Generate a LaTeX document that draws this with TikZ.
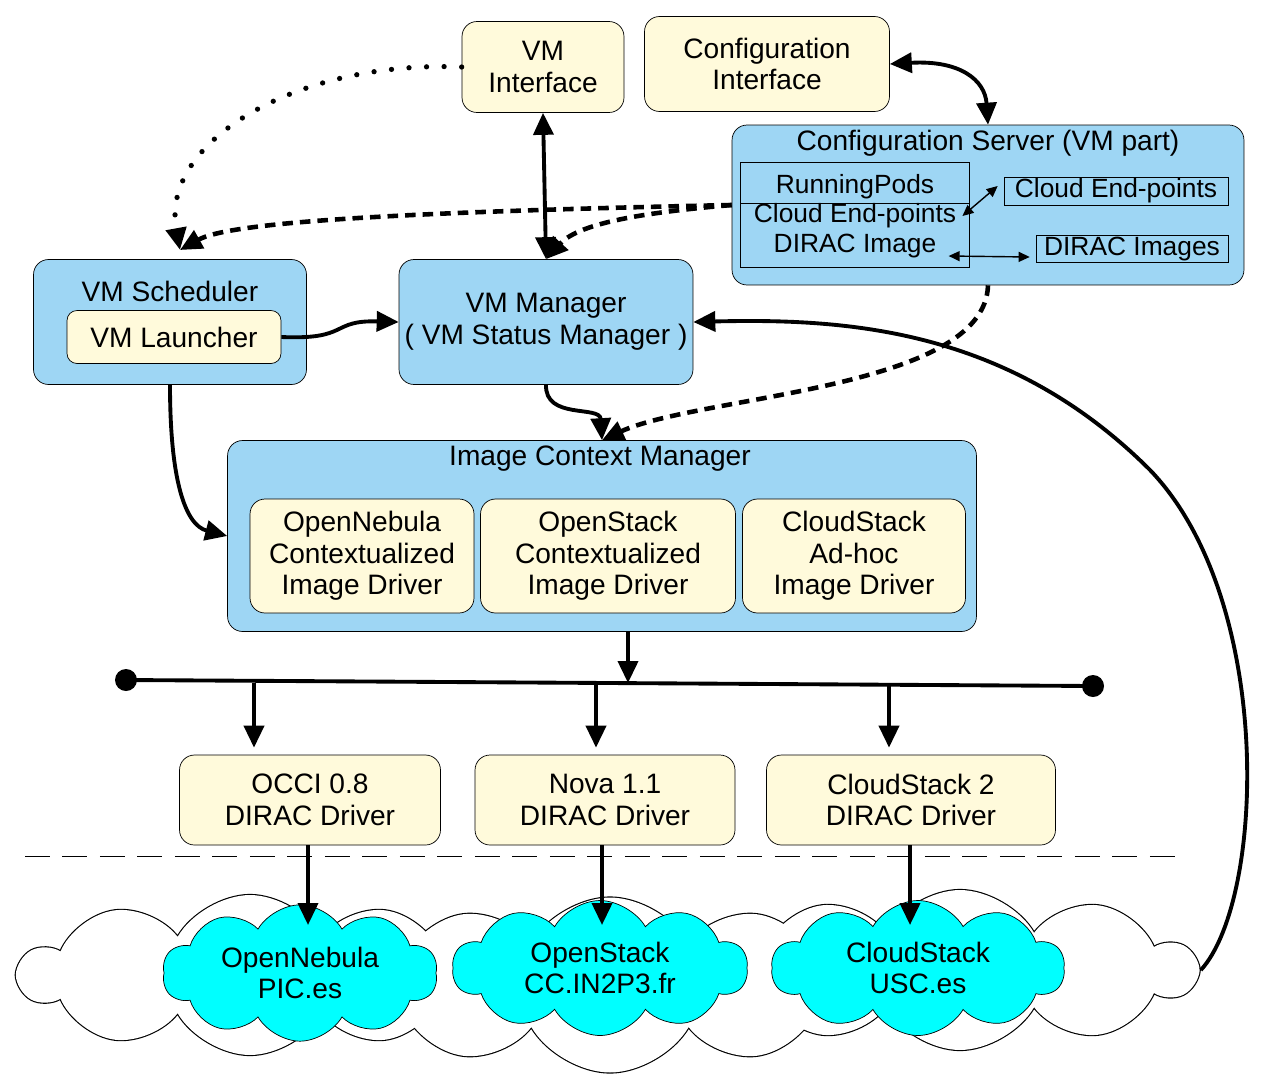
\documentclass[tikz,border=0pt]{standalone}
\usepackage{fontspec}
\setmainfont{Liberation Sans}
\usepackage{tikz}
\usetikzlibrary{arrows.meta,positioning,calc,shapes.symbols}
\definecolor{mgrblue}{HTML}{9ED6F4}
\definecolor{drvyellow}{HTML}{FFFADB}
\definecolor{sitecyan}{HTML}{00FFFF}

\begin{document}
\begin{tikzpicture}[x=0.02cm,y=-0.02cm,
    every node/.style={font=\fontsize{16}{18}\selectfont,align=center,inner sep=0pt},
    small/.style={font=\fontsize{15}{17}\selectfont},
    mgr/.style={draw,thin,rounded corners=0.3cm,fill=mgrblue},
    drv/.style={draw,thin,rounded corners=0.3cm,fill=drvyellow},
    plain/.style={draw,thin},
    site/.style={cloud,draw,thin,fill=sitecyan,cloud puffs=10,cloud puff arc=120},
    gridcloud/.style={cloud,cloud puffs=10,cloud puff arc=120,aspect=2.9},
    arr/.style={-{Triangle[length=4.4mm,width=4mm]},line width=2.2pt},
    darr/.style={{Triangle[length=4.4mm,width=4mm]}-{Triangle[length=4.4mm,width=4mm]},line width=2.2pt},
    tarr/.style={{Triangle[length=2.2mm,width=2mm]}-{Triangle[length=2.2mm,width=2mm]},line width=0.8pt},
    dotarr/.style={arr,line width=3pt,line cap=round,dash pattern=on 0pt off 10pt},
    dasharr/.style={arr,line width=2.6pt,dash pattern=on 6pt off 4pt}
]
\useasboundingbox (0,0) rectangle (1267,1079);

% background cloud: outline of three clouds, then white fill over the inner halves
\node[gridcloud,draw,line width=1.3pt,minimum width=9.2cm,minimum height=3.2cm] (gridA) at (250,975) {};
\node[gridcloud,draw,line width=1.3pt,minimum width=10cm,minimum height=3.5cm] (gridB) at (610,985) {};
\node[gridcloud,draw,line width=1.3pt,minimum width=9.4cm,minimum height=3.2cm] (gridC) at (960,970) {};
\node[gridcloud,fill=white,minimum width=9.2cm,minimum height=3.2cm] (gridAf) at (gridA) {};
\node[gridcloud,fill=white,minimum width=10cm,minimum height=3.5cm] (gridBf) at (gridB) {};
\node[gridcloud,fill=white,minimum width=9.4cm,minimum height=3.2cm] (gridCf) at (gridC) {};

% top interfaces
\node[drv,minimum width=3.24cm,minimum height=1.82cm] (vmif) at (543,67) {VM\\Interface};
\node[drv,minimum width=4.9cm,minimum height=1.9cm] (cfgif) at (767,64) {Configuration\\Interface};

% configuration server
\node[mgr,minimum width=10.24cm,minimum height=3.2cm] (cfgsrv) at (988,205) {};
\node (cfgttl) at (988,143) {Configuration Server (VM part)};
\node[plain,minimum width=4.58cm,minimum height=2.1cm] (pods) at (855,215) {};
\draw[thin] (pods.west |- 0,203) -- (pods.east |- 0,203);
\node[small] (podrun) at (855,187) {RunningPods};
\node[small] (podcep) at (855,216) {Cloud End-points};
\node[small] (podimg) at (855,246) {DIRAC Image};
\node[plain,small,minimum width=4.48cm,minimum height=0.56cm] (cep) at (1116,191) {Cloud End-points};
\node[plain,small,minimum width=3.84cm,minimum height=0.54cm] (dimg) at (1132,249) {DIRAC Images};

% scheduler and manager
\node[mgr,minimum width=5.46cm,minimum height=2.5cm] (sched) at (170,322) {};
\node (schedttl) at (170,291) {VM Scheduler};
\node[drv,rounded corners=0.2cm,minimum width=4.28cm,minimum height=1.06cm] (launch) at (174,337) {VM Launcher};
\node[mgr,minimum width=5.88cm,minimum height=2.5cm] (vmmgr) at (546,322) {VM Manager\\( VM Status Manager )};

% image context manager
\node[mgr,minimum width=14.98cm,minimum height=3.82cm] (icm) at (602,536) {};
\node (icmttl) at (600,459) {Image Context Manager};
\node[drv,minimum width=4.48cm,minimum height=2.28cm] (idrv1) at (362,556) {OpenNebula\\Contextualized\\Image Driver};
\node[drv,minimum width=5.1cm,minimum height=2.28cm] (idrv2) at (608,556) {OpenStack\\Contextualized\\Image Driver};
\node[drv,minimum width=4.46cm,minimum height=2.28cm] (idrv3) at (854,556) {CloudStack\\Ad-hoc\\Image Driver};

% bus
\coordinate (busL) at (126,680);
\coordinate (busR) at (1093,686);
\coordinate (busI) at (628,683);
\coordinate (bus1) at (254,683);
\coordinate (bus2) at (596,684);
\coordinate (bus3) at (889,685);
\draw[line width=2.2pt] (busL) -- (busR);
\fill (busL) circle (0.22cm);
\fill (busR) circle (0.22cm);

% DIRAC drivers
\node[drv,minimum width=5.22cm,minimum height=1.8cm] (occi) at (310,800) {OCCI 0.8\\DIRAC Driver};
\node[drv,minimum width=5.2cm,minimum height=1.8cm] (nova) at (605,800) {Nova 1.1\\DIRAC Driver};
\node[drv,minimum width=5.78cm,minimum height=1.8cm] (cstk) at (911,800) {CloudStack 2\\DIRAC Driver};

\coordinate (sepL) at (25,856);
\coordinate (sepR) at (1180,856);
\draw[thin,dash pattern=on 0.5cm off 0.25cm] (sepL) -- (sepR);

% sites
\node[site,minimum width=5.5cm,minimum height=2.5cm,aspect=2.2] (pic) at (300,973) {OpenNebula\\PIC.es};
\node[site,minimum width=5.9cm,minimum height=2.7cm,aspect=2.2] (in2p3) at (600,968) {OpenStack\\CC.IN2P3.fr};
\node[site,minimum width=5.86cm,minimum height=2.7cm,aspect=2.2] (usc) at (918,968) {CloudStack\\USC.es};

% connectors
\coordinate (schedin) at (180,250);
\draw[dotarr] (vmif.west) .. controls (300,60) and (160,140) .. (schedin);
\draw[dasharr] (cfgsrv.west) .. controls (400,212) and (230,222) .. (schedin);
\draw[dasharr] (cfgsrv.west) .. controls (650,212) and (580,222) .. (vmmgr.north);
\draw[darr] (vmif.south) -- (vmmgr.north);
\draw[darr] (cfgif.east) .. controls (960,60) and (985,80) .. (cfgsrv.north);
\draw[tarr] ($(podcep.east)+(6,0)$) -- ($(cep.west)+(-6,-5)$);
\draw[tarr] ($(podimg.east)+(12,10)$) -- ($(dimg.west)+(-6,8)$);
\draw[arr] (launch.east) .. controls (350,340) and (330,320) .. (vmmgr.west);
\draw[arr] (sched.south) .. controls (170,480) and (185,525) .. (icm.west);
\draw[arr] (vmmgr.south) .. controls (545,420) and (600,405) .. (icm.north);
\draw[dasharr] (cfgsrv.south) .. controls (985,390) and (700,395) .. (icm.north);
\draw[arr] (gridC.east) .. controls (1265,900) and (1275,600) .. (1150,470)
    .. controls (1010,330) and (850,318) .. (vmmgr.east);
\draw[arr] (icm.south -| busI) -- (busI);
\draw[arr] (bus1) -- ($(bus1 |- occi.north)+(0,-7)$);
\draw[arr] (bus2) -- ($(bus2 |- nova.north)+(0,-7)$);
\draw[arr] (bus3) -- ($(bus3 |- cstk.north)+(0,-7)$);
\draw[arr] (occi.south -| 308,0) -- (308,925);
\draw[arr] (nova.south -| 602,0) -- (602,925);
\draw[arr] (cstk.south -| 910,0) -- (910,925);
\end{tikzpicture}
\end{document}
